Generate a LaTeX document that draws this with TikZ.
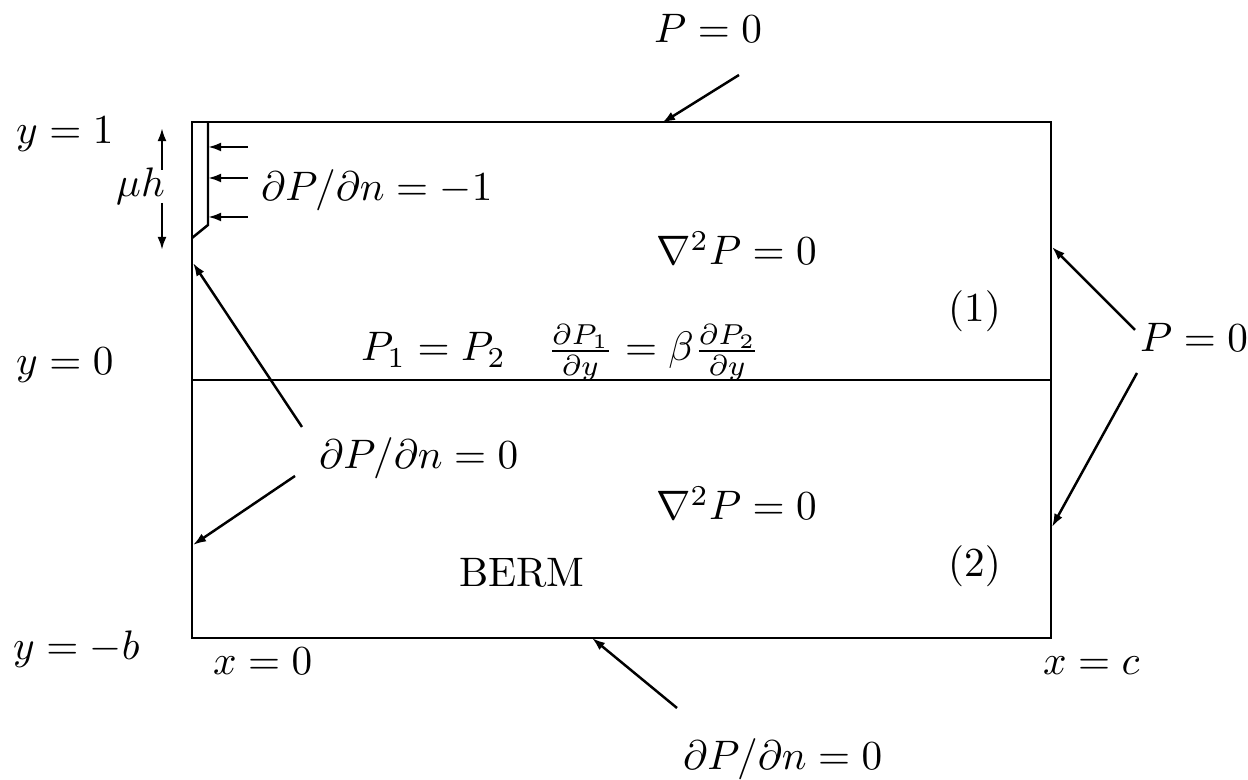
\documentclass[tikz,border=0pt]{standalone}
\usetikzlibrary{arrows.meta}
\begin{document}
\begin{tikzpicture}[x=0.2427pt,y=-0.2427pt, line width=0.6pt,
  lbl/.style={inner sep=0pt, anchor=base west},
  ptr/.style={-{Latex[length=3.2pt,width=2.2pt]}}]
\useasboundingbox (0,0) rectangle (1248,780);
% box
\coordinate (TL) at (192,122);
\coordinate (BR) at (1051,638);
\draw (TL) rectangle (BR);
\coordinate (ML) at (192,380);
\coordinate (MR) at (1051,380);
\draw (ML) -- (MR);
% wall
\coordinate (w1) at (208,122);
\coordinate (w2) at (208,225);
\coordinate (w3) at (192,238);
\draw (w1) -- (w2) -- (w3);
% flux arrows
\foreach \yy/\nm in {147/a,178/b,217/c}{
  \coordinate (fs\nm) at (248,\yy);
  \coordinate (fe\nm) at (208,\yy);
  \draw[ptr] (fs\nm) -- (fe\nm);
}
% mu h dimension
\node[lbl] (muh) at (115,197) {$\mu h$};
\coordinate (mu1) at (162,170);
\coordinate (mu2) at (162,128);
\coordinate (mu3) at (162,203);
\coordinate (mu4) at (162,250);
\draw[ptr] (mu1) -- (mu2);
\draw[ptr] (mu3) -- (mu4);
% labels
\node[lbl] (y1) at (15,144) {$y=1$};
\node[lbl] (y0) at (15,375) {$y=0$};
\node[lbl] (yb) at (12,660) {$y=-b$};
\node[lbl] (x0) at (212,675) {$x=0$};
\node[lbl] (xc) at (1042,675) {$x=c$};
\node[lbl] (ptop) at (653,43) {$P=0$};
\node[lbl] (flux) at (260,201) {$\partial P/\partial n=-1$};
\node[lbl] (lap1) at (655,265) {$\nabla^2 P=0$};
\node[lbl] (lap2) at (655,520) {$\nabla^2 P=0$};
\node[lbl] (r1) at (947,322) {$(1)$};
\node[lbl] (r2) at (947,577) {$(2)$};
\node[lbl] (iface) at (360,361) {$P_1=P_2\quad \frac{\partial P_1}{\partial y}=\beta\frac{\partial P_2}{\partial y}$};
\node[lbl] (nleft) at (318,469) {$\partial P/\partial n=0$};
\node[lbl] (pright) at (1139,352) {$P=0$};
\node[lbl] (berm) at (458,587) {BERM};
\node[lbl] (nbot) at (682,770) {$\partial P/\partial n=0$};
% pointer arrows
\coordinate (t1) at (739,75);   \coordinate (t2) at (662,123);
\draw[ptr] (t1) -- (t2);
\coordinate (b1) at (677,708);  \coordinate (b2) at (592,638);
\draw[ptr] (b1) -- (b2);
\coordinate (l1) at (302,427);  \coordinate (l2) at (193,263);
\draw[ptr] (l1) -- (l2);
\coordinate (l3) at (295,476);  \coordinate (l4) at (193,545);
\draw[ptr] (l3) -- (l4);
\coordinate (r1a) at (1135,330); \coordinate (r1b) at (1052,247);
\draw[ptr] (r1a) -- (r1b);
\coordinate (r2a) at (1137,373); \coordinate (r2b) at (1052,527);
\draw[ptr] (r2a) -- (r2b);
\end{tikzpicture}
\end{document}
